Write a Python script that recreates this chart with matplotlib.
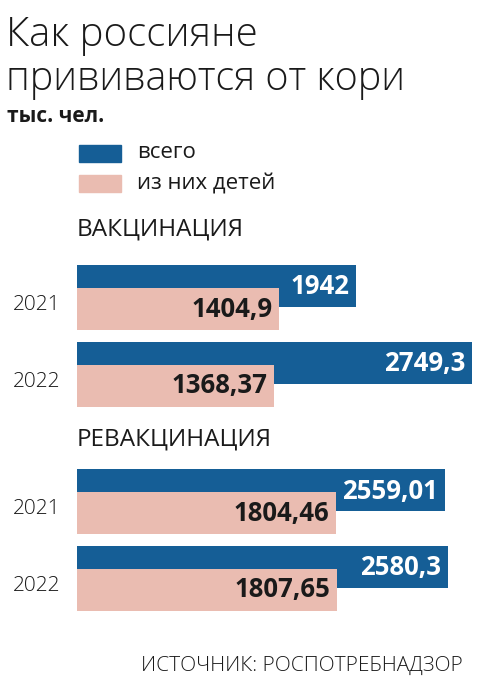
import matplotlib
matplotlib.use("Agg")
import matplotlib.pyplot as plt
from matplotlib.patches import Rectangle

plt.rcParams['font.family'] = ['Open Sans', 'DejaVu Sans']

# данные, тыс. чел.
sections = ["ВАКЦИНАЦИЯ", "РЕВАКЦИНАЦИЯ"]
years = ["2021", "2022"]
total_vals = [[1942, 2749.3], [2559.01, 2580.3]]
kids_vals = [[1404.9, 1368.37], [1804.46, 1807.65]]
total_labels = [["1942", "2749,3"], ["2559,01", "2580,3"]]
kids_labels = [["1404,9", "1368,37"], ["1804,46", "1807,65"]]

BLUE = "#155e96"
PINK = "#eabcb1"
W, H = 482, 692

def fx(px):
    return px / W

def fy(px):
    return 1 - px / H

fig = plt.figure(figsize=(W / 100, H / 100), dpi=100)
fig.patch.set_facecolor("white")

# заголовок
fig.text(fx(6), fy(36), "Как россияне", fontsize=29, fontweight="light",
         color="#1a1a1a", va="center", ha="left")
fig.text(fx(6), fy(80), "прививаются от кори", fontsize=28.5, fontweight="light",
         color="#1a1a1a", va="center", ha="left")
fig.text(fx(7), fy(117), "тыс. чел.", fontsize=15, fontweight="bold",
         color="#1a1a1a", va="center", ha="left")

# легенда
fig.patches.append(Rectangle((fx(79), fy(162)), fx(42), 17 / H, color=BLUE,
                             transform=fig.transFigure))
fig.patches.append(Rectangle((fx(79), fy(192)), fx(42), 17 / H, color=PINK,
                             transform=fig.transFigure))
fig.text(fx(137), fy(153), "всего", fontsize=16, color="#1a1a1a", va="center")
fig.text(fx(137), fy(184), "из них детей", fontsize=16, color="#1a1a1a", va="center")

# оси для столбиков: по y - пиксели сверху
ax = fig.add_axes([fx(77), 0, 1 - fx(77), 1])
ax.set_xlim(0, 2819)
ax.set_ylim(H, 0)
ax.axis("off")

section_top = [265, 469]
title_y = [230, 440]
row_step = 77
bar_h = 42
pink_off = 23

for s, name in enumerate(sections):
    ax.text(0, title_y[s], name, fontsize=17.5, color="#1a1a1a",
            va="center", ha="left")
    for i, yr in enumerate(years):
        top = section_top[s] + i * row_step
        yb = top + bar_h / 2
        yp = top + pink_off + bar_h / 2
        ax.barh(yb, total_vals[s][i], height=bar_h, color=BLUE, left=0)
        ax.barh(yp, kids_vals[s][i], height=bar_h, color=PINK, left=0)
        pad = 45
        ax.text(total_vals[s][i] - pad, top + pink_off - 1, total_labels[s][i],
                color="white", fontsize=18.5, fontweight="bold",
                ha="right", va="center")
        ax.text(kids_vals[s][i] - pad, yp, kids_labels[s][i],
                color="#1a1a1a", fontsize=18.5, fontweight="bold",
                ha="right", va="center")
        fig.text(fx(60), fy(top + 40), yr, fontsize=15, fontweight="light",
                 color="#1a1a1a", ha="right", va="center")

fig.text(fx(463), fy(666), "ИСТОЧНИК: РОСПОТРЕБНАДЗОР", fontsize=15,
         fontweight="light", color="#1a1a1a", ha="right", va="center")

fig.savefig("out.png", dpi=100)
